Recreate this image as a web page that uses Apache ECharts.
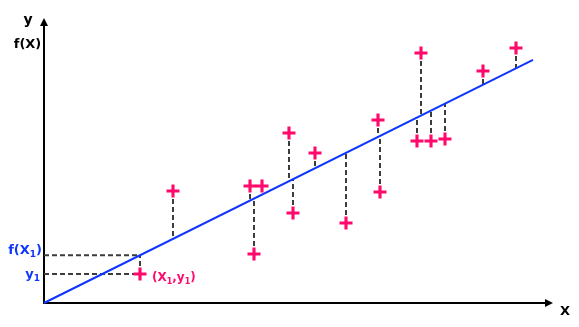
<!DOCTYPE html>
<html>
<head>
<meta charset="utf-8">
<script src="https://cdn.jsdelivr.net/npm/echarts@6/dist/echarts.min.js"></script>
<style>html,body{margin:0;padding:0;background:#fff}#c{width:579px;height:327px}</style>
</head>
<body>
<div id="c"></div>
<script>
// Observations (x, y) in chart units
var obsX = [96, 129, 206, 218, 210, 249, 245, 271, 302, 334, 336, 377, 373, 387, 401, 439, 472];
var obsY = [29, 112, 117, 117, 49, 90, 170, 150, 80, 183, 111, 250, 162, 162, 164, 232, 255];
// Regression line f(X) = slope * X + intercept, drawn over lineX range
var slope = 0.497;
var intercept = 0;
var lineX = [0, 489];
// highlighted observation index (X1, y1)
var hiIndex = 0;

var FONT = 'DejaVu Sans';
var PINK = '#ff0a6c';
var BLUE = '#0f36ff';
var DASH = '#3c3c3c';

function f(x) { return slope * x + intercept; }

var points = obsX.map(function (x, i) { return [x, obsY[i]]; });
var linePts = lineX.map(function (x) { return [x, f(x)]; });
var segs = obsX.map(function (x, i) { return [[x, obsY[i]], [x, f(x)]]; });
var hx = obsX[hiIndex], hy = obsY[hiIndex];
segs.push([[0, f(hx)], [hx, f(hx)]]);
segs.push([[0, hy], [hx, hy]]);

var dashSeries = segs.map(function (s) {
  return {
    type: 'line', data: s, z: 1, symbol: 'none', showSymbol: false, silent: true,
    lineStyle: { color: DASH, width: 2, type: [5, 3] }
  };
});

var plus = 'path://M3.8,0H6.2V3.8H10V6.2H6.2V10H3.8V6.2H0V3.8H3.8Z';
var tri = 'path://M5,0L10,10L0,10Z';

function sub(color, big, small) {
  return {
    a: { fontFamily: FONT, fontWeight: 'bold', fontSize: big, lineHeight: 16, fill: color },
    b: { fontFamily: FONT, fontWeight: 'bold', fontSize: small, lineHeight: 8, verticalAlign: 'bottom', fill: color }
  };
}

var chart = echarts.init(document.getElementById('c'), null, { renderer: 'canvas' });
chart.setOption({
  animation: false,
  backgroundColor: '#fff',
  grid: { left: 44, right: 30, top: 22, bottom: 24 },
  xAxis: {
    type: 'value', min: 0, max: 505,
    axisLine: { show: true, onZero: false, symbol: ['none', tri], symbolSize: [8, 9], lineStyle: { color: '#000', width: 2 } },
    axisTick: { show: false }, axisLabel: { show: false }, splitLine: { show: false }
  },
  yAxis: {
    type: 'value', min: 0, max: 281,
    axisLine: { show: true, onZero: false, symbol: ['none', tri], symbolSize: [9, 8], lineStyle: { color: '#000', width: 2 } },
    axisTick: { show: false }, axisLabel: { show: false }, splitLine: { show: false }
  },
  series: dashSeries.concat([
    {
      type: 'line', data: linePts, z: 2, showSymbol: false, symbol: 'none',
      lineStyle: { color: BLUE, width: 2 }, silent: true
    },
    {
      type: 'scatter', data: points, z: 3, symbol: plus, symbolSize: 13,
      itemStyle: { color: PINK, opacity: 1 }, silent: true
    }
  ]),
  graphic: [
    { type: 'text', x: 28, y: 20, style: { text: 'y', font: 'bold 14px "DejaVu Sans"', fill: '#000', align: 'center', verticalAlign: 'middle' } },
    { type: 'text', x: 27.5, y: 45, style: { text: 'f(X)', font: 'bold 13px "DejaVu Sans"', fill: '#000', align: 'center', verticalAlign: 'middle' } },
    { type: 'text', x: 565, y: 312, style: { text: 'X', font: 'bold 13px "DejaVu Sans"', fill: '#000', align: 'center', verticalAlign: 'middle' } },
    { type: 'text', x: 42, y: 251, style: { text: '{a|f(X}{b|1}{a|)}', align: 'right', verticalAlign: 'middle', fill: BLUE, rich: sub(BLUE, 13, 9) } },
    { type: 'text', x: 40, y: 275, style: { text: '{a|y}{b|1}', align: 'right', verticalAlign: 'middle', fill: BLUE, rich: sub(BLUE, 13, 9) } },
    { type: 'text', x: 152, y: 278, style: { text: '{a|(X}{b|1}{a|,y}{b|1}{a|)}', align: 'left', verticalAlign: 'middle', fill: PINK, rich: sub(PINK, 12, 8) } }
  ]
});
</script>
</body>
</html>
